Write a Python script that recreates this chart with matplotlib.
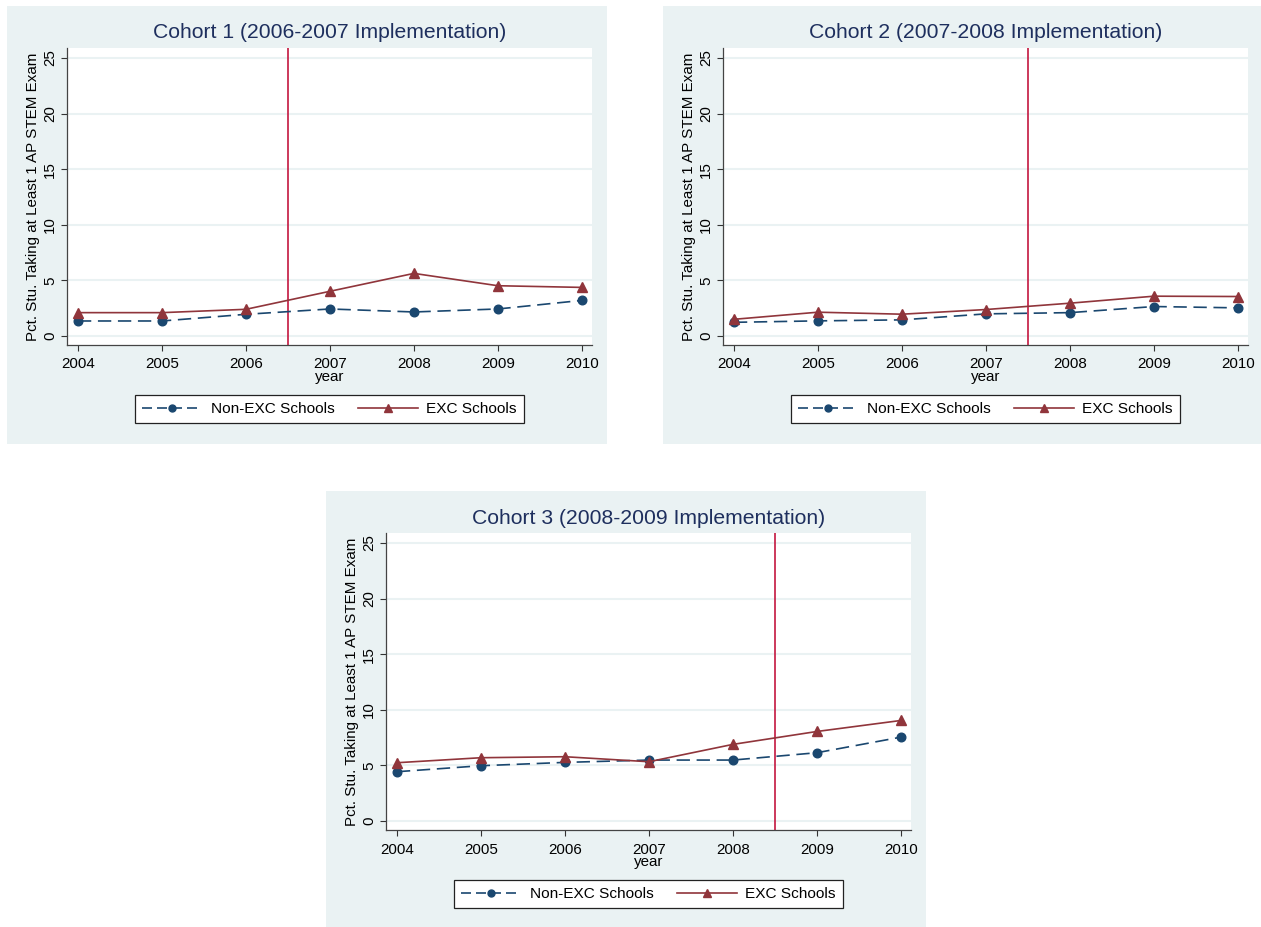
import matplotlib
matplotlib.use("Agg")
import matplotlib.pyplot as plt
from matplotlib.patches import Rectangle

plt.rcParams['font.family'] = ['Liberation Sans', 'DejaVu Sans']

years = [2004, 2005, 2006, 2007, 2008, 2009, 2010]
titles = ["Cohort 1 (2006-2007 Implementation)",
          "Cohort 2 (2007-2008 Implementation)",
          "Cohort 3 (2008-2009 Implementation)"]
impl_lines = [2006.5, 2007.5, 2008.5]

non_exc_c1 = [1.35, 1.35, 1.95, 2.43, 2.16, 2.43, 3.20]
exc_c1 = [2.10, 2.10, 2.40, 4.02, 5.63, 4.52, 4.37]
non_exc_c2 = [1.23, 1.36, 1.45, 1.99, 2.10, 2.65, 2.53]
exc_c2 = [1.50, 2.14, 1.96, 2.38, 2.95, 3.58, 3.55]
non_exc_c3 = [4.43, 4.97, 5.27, 5.48, 5.48, 6.14, 7.54]
exc_c3 = [5.24, 5.69, 5.78, 5.33, 6.89, 8.05, 9.04]

non_exc = [non_exc_c1, non_exc_c2, non_exc_c3]
exc = [exc_c1, exc_c2, exc_c3]

y_ticks = [0, 5, 10, 15, 20, 25]
ylabel = "Pct. Stu. Taking at Least 1 AP STEM Exam"
xlabel = "year"
legend_labels = ["Non-EXC Schools", "EXC Schools"]

W, H = 1261, 927
fig = plt.figure(figsize=(W / 100, H / 100), dpi=100)
fig.patch.set_facecolor('white')

BG = '#EAF2F3'
NAVY = '#1A476F'
MAROON = '#90353B'
VLINE = '#C4173F'
TITLE_C = '#1E2F5E'
FS = 10.9

offsets = [(0, 0), (656, 0), (319, 485)]


def fx(x):
    return x / W


def fy(y):
    return 1 - y / H


for i, (dx, dy) in enumerate(offsets):
    # background panel
    bx0, bx1, by0, by1 = 7 + dx, 607 + dx, 6 + dy, 444 + dy
    rect = Rectangle((fx(bx0), fy(by1)), fx(bx1) - fx(bx0), fy(by0) - fy(by1),
                     transform=fig.transFigure, facecolor=BG, edgecolor='none', zorder=-10)
    fig.add_artist(rect)
    l, r, t, b = 67 + dx, 592 + dx, 48 + dy, 345 + dy
    ax = fig.add_axes([fx(l), fy(b), fx(r) - fx(l), fy(t) - fy(b)], zorder=1)
    ax.set_facecolor('white')
    ax.set_xlim(2003.87, 2010.12)
    ax.set_ylim(-0.81, 25.9)
    ax.set_yticks(y_ticks)
    ax.set_xticks(years)
    ax.set_xticklabels([str(y) for y in years], fontsize=FS)
    ax.set_yticklabels([str(v) for v in y_ticks], fontsize=FS, rotation=90, va='center')
    ax.tick_params(axis='both', direction='out', length=4, width=0.8, color='#333333', pad=3)
    ax.tick_params(axis='x', pad=5)
    for s in ['top', 'right']:
        ax.spines[s].set_visible(False)
    for s in ['left', 'bottom']:
        ax.spines[s].set_color('#444444')
        ax.spines[s].set_linewidth(0.9)
    ax.grid(axis='y', color=BG, linewidth=1.5)
    ax.set_axisbelow(True)
    ax.axvline(impl_lines[i], color=VLINE, linewidth=1.2, zorder=2)
    ax.plot(years, non_exc[i], color=NAVY, linestyle=(0, (8, 4)), linewidth=1.2,
            marker='o', markersize=6.2, zorder=3)
    ax.plot(years, exc[i], color=MAROON, linestyle='-', linewidth=1.2,
            marker='^', markersize=6.8, zorder=3)
    ax.text(0.5, 1 + 15 / 297, titles[i], transform=ax.transAxes, ha='center', va='center',
            fontsize=15.2, color=TITLE_C)
    ax.set_ylabel(ylabel, fontsize=FS)
    ax.yaxis.set_label_coords(-27 / 525, 0.5)
    ax.set_xlabel(xlabel, fontsize=FS)
    ax.xaxis.set_label_coords(0.5, -25 / 297)
    h1 = plt.Line2D([], [], color=NAVY, linestyle=(0, (6, 3)), linewidth=1.2,
                    marker='o', markersize=5)
    h2 = plt.Line2D([], [], color=MAROON, linestyle='-', linewidth=1.2,
                    marker='^', markersize=5.5)
    leg = ax.legend([h1, h2], legend_labels, loc='center', ncol=2,
                    bbox_to_anchor=(fx((l + r) / 2), fy(409 + dy)), bbox_transform=fig.transFigure,
                    fontsize=11.1, frameon=True, fancybox=False, edgecolor='#222222',
                    handlelength=3.9, columnspacing=1.5, handletextpad=0.55, borderpad=0.45)
    leg.get_frame().set_linewidth(0.9)
    leg.get_frame().set_facecolor('white')
    leg.get_frame().set_alpha(1)

fig.savefig('out.png', dpi=100, facecolor='white')
